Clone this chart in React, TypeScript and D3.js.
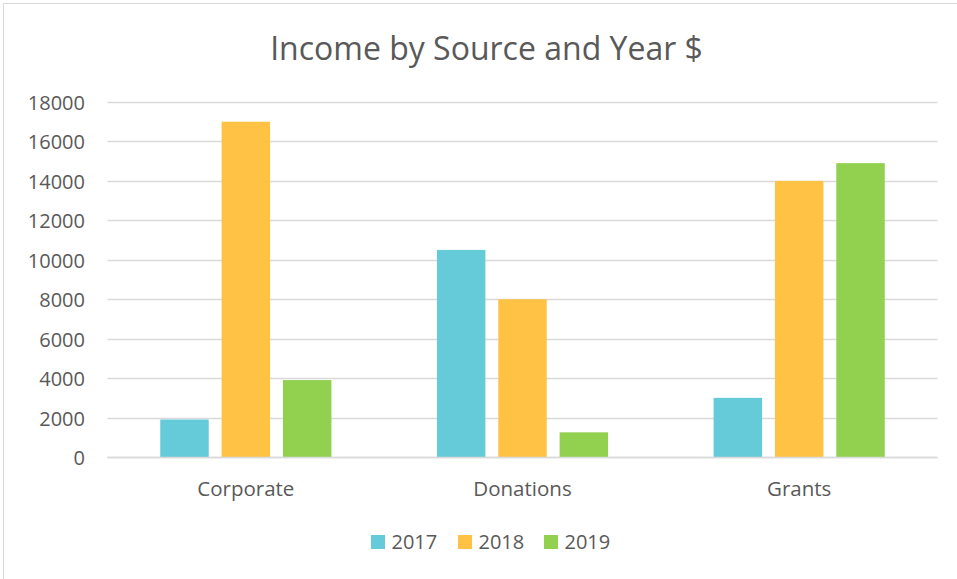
import React, { useEffect, useRef } from "react";
import * as d3 from "d3";

const categories = ["Corporate", "Donations", "Grants"];
const years = ["2017", "2018", "2019"];
const values2017 = [1900, 10500, 3000];
const values2018 = [17000, 8000, 14000];
const values2019 = [3900, 1250, 14900];
const yTicks = [0, 2000, 4000, 6000, 8000, 10000, 12000, 14000, 16000, 18000];
const colors = ["#65CBD8", "#FFC244", "#92D050"];

const W = 957;
const H = 579;
const FONT = "'Open Sans', sans-serif";

export default function App() {
  const ref = useRef<SVGSVGElement>(null);

  useEffect(() => {
    const svg = d3.select(ref.current);
    svg.selectAll("*").remove();

    const series = [values2017, values2018, values2019];
    const margin = { left: 107.5, right: 19.5, top: 102, bottom: 122 };

    const x0 = d3
      .scaleBand<string>()
      .domain(categories)
      .range([margin.left, W - margin.right]);
    const x1 = d3
      .scaleBand<string>()
      .domain(years)
      .range([0, x0.bandwidth()])
      .paddingInner(0.21)
      .paddingOuter(0.86);
    const y = d3
      .scaleLinear()
      .domain([0, 18000])
      .range([H - margin.bottom, margin.top]);

    // outer border (chart is cropped at right/bottom)
    svg
      .append("rect")
      .attr("x", 3.5)
      .attr("y", 3.5)
      .attr("width", W + 10)
      .attr("height", H + 10)
      .attr("fill", "#fff")
      .attr("stroke", "#d9d9d9");

    svg
      .append("text")
      .attr("x", 486.5)
      .attr("y", 60)
      .attr("text-anchor", "middle")
      .attr("font-family", FONT)
      .attr("font-size", 32)
      .attr("fill", "#595959")
      .text("Income by Source and Year $");

    // gridlines
    svg
      .append("g")
      .selectAll("line")
      .data(yTicks)
      .join("line")
      .attr("x1", margin.left)
      .attr("x2", W - margin.right)
      .attr("y1", (d) => Math.round(y(d)) + 0.5)
      .attr("y2", (d) => Math.round(y(d)) + 0.5)
      .attr("stroke", "#d9d9d9")
      .attr("stroke-width", 1.5);

    // y tick labels
    svg
      .append("g")
      .selectAll("text")
      .data(yTicks)
      .join("text")
      .attr("x", 85)
      .attr("y", (d) => y(d) + 8)
      .attr("text-anchor", "end")
      .attr("font-family", FONT)
      .attr("font-size", 20)
      .attr("fill", "#595959")
      .text((d) => String(d));

    // bars
    const groups = svg
      .append("g")
      .selectAll("g")
      .data(categories)
      .join("g")
      .attr("transform", (d) => `translate(${x0(d)},0)`);

    groups
      .selectAll("rect")
      .data((_, i) => years.map((yr, j) => ({ yr, j, v: series[j][i] })))
      .join("rect")
      .attr("x", (d) => x1(d.yr)!)
      .attr("width", x1.bandwidth())
      .attr("y", (d) => y(d.v))
      .attr("height", (d) => y(0) - y(d.v))
      .attr("fill", (d) => colors[d.j]);

    // baseline redraw over bars
    svg
      .append("line")
      .attr("x1", margin.left)
      .attr("x2", W - margin.right)
      .attr("y1", Math.round(y(0)) + 0.5)
      .attr("y2", Math.round(y(0)) + 0.5)
      .attr("stroke", "#d9d9d9")
      .attr("stroke-width", 1.5);

    // category labels
    svg
      .append("g")
      .selectAll("text")
      .data(categories)
      .join("text")
      .attr("x", (d) => x0(d)! + x0.bandwidth() / 2)
      .attr("y", 496)
      .attr("text-anchor", "middle")
      .attr("font-family", FONT)
      .attr("font-size", 20.5)
      .attr("fill", "#595959")
      .text((d) => d);

    // legend
    const legendX = [371, 458, 544];
    const lg = svg
      .append("g")
      .selectAll("g")
      .data(years)
      .join("g")
      .attr("transform", (_, i) => `translate(${legendX[i]},535)`);
    lg.append("rect")
      .attr("width", 14)
      .attr("height", 14)
      .attr("fill", (_, i) => colors[i]);
    lg.append("text")
      .attr("x", 20.5)
      .attr("y", 14)
      .attr("font-family", FONT)
      .attr("font-size", 20)
      .attr("fill", "#595959")
      .text((d) => d);
  }, []);

  return (
    <svg
      ref={ref}
      width={W}
      height={H}
      style={{ position: "absolute", left: 0, top: 0 }}
    />
  );
}
